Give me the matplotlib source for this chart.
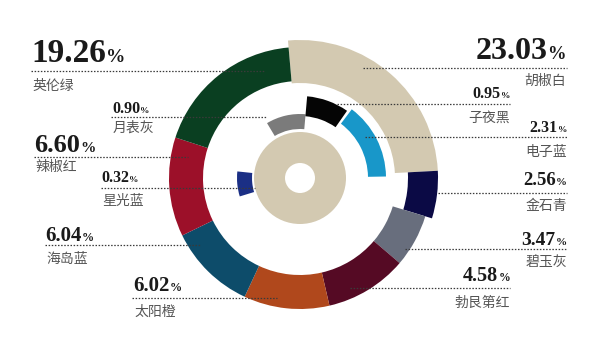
import matplotlib.pyplot as plt
from matplotlib.patches import Wedge, Circle

# Outer ring, clockwise from the top
outer_names = ['胡椒白', '金石青', '碧玉灰', '勃艮第红', '太阳橙', '海岛蓝', '辣椒红', '英伦绿']
outer_pct = [23.03, 2.56, 3.47, 4.58, 6.02, 6.04, 6.60, 19.26]
outer_span = [92, 20, 23.5, 36.5, 38, 39, 44, 67]   # degrees, as drawn in the graphic

# Small arcs inside the ring (angles counter-clockwise from east)
inner_names = ['月表灰', '子夜黑', '电子蓝', '星光蓝']
inner_pct = [0.90, 0.95, 2.31, 0.32]
inner_from = [85, 55, 1, 174]
inner_to = [121, 85, 53, 197]

# Styles
colors = {'胡椒白': '#d3c9b1', '金石青': '#0b0a45', '碧玉灰': '#686e7d', '勃艮第红': '#550a24',
          '太阳橙': '#b0481c', '海岛蓝': '#0d4c6a', '辣椒红': '#9c1029', '英伦绿': '#0a3f21',
          '月表灰': '#7b7b7b', '子夜黑': '#050505', '电子蓝': '#1897c9', '星光蓝': '#1b2f85'}
radii = {'胡椒白': (95, 138), '金石青': (108, 138),
         '月表灰': (49, 64), '子夜黑': (62, 82), '电子蓝': (68, 86), '星光蓝': (48, 63)}
ring_default = (97, 131)
cx, cy = 300, 178
start_angle = 95

# Label layout: side, x, number baseline, font size, line y, line x0, line x1, name y
label_layout = {
    '英伦绿': ('L', 31, 62, 24, 71, 31, 265, 86),
    '月表灰': ('L', 112, 113, 11.5, 116.5, 111, 267, 128),
    '辣椒红': ('L', 34, 152, 19, 157, 34, 188, 167),
    '星光蓝': ('L', 101, 182, 11.5, 188, 101, 255, 201),
    '海岛蓝': ('L', 45, 241, 15, 245, 45, 200, 259),
    '太阳橙': ('L', 133, 291, 15, 298, 132, 277, 312),
    '胡椒白': ('R', 566, 59, 23, 68, 363, 567, 81),
    '子夜黑': ('R', 510, 98, 11.5, 104, 337, 510, 118),
    '电子蓝': ('R', 567, 132, 11.5, 137, 365, 567, 152),
    '金石青': ('R', 567, 185, 13.5, 193, 438, 567, 206),
    '碧玉灰': ('R', 567, 245, 14, 249, 405, 567, 262),
    '勃艮第红': ('R', 510, 281, 14.5, 288, 350, 510, 303),
}

fig = plt.figure(figsize=(6, 3.58), dpi=100)
ax = fig.add_axes([0, 0, 1, 1])
ax.set_xlim(0, 600)
ax.set_ylim(358, 0)
ax.axis('off')

# Outer ring (y axis is inverted, so screen angle a is data angle -a)
a = start_angle
for name, span in zip(outer_names, outer_span):
    r0, r1 = radii.get(name, ring_default)
    ax.add_patch(Wedge((cx, cy), r1, -a, -(a - span), width=r1 - r0,
                       facecolor=colors[name], edgecolor='none', zorder=2))
    a -= span

# Inner arcs
for name, a0, a1 in zip(inner_names, inner_from, inner_to):
    r0, r1 = radii[name]
    ax.add_patch(Wedge((cx, cy), r1, -a1, -a0, width=r1 - r0,
                       facecolor=colors[name], edgecolor='none', zorder=2))

# Centre disk with hole
ax.add_patch(Circle((cx, cy), 46, facecolor='#d3c9b1', edgecolor='none', zorder=2))
ax.add_patch(Circle((cx, cy), 15, facecolor='white', edgecolor='none', zorder=2))

# Labels
numfont = dict(family='Liberation Serif', fontweight='bold', color='#1a1a1a')
namefont = dict(family=['Noto Sans CJK SC', 'DejaVu Sans'], color='#555555', fontsize=10)
renderer = fig.canvas.get_renderer()

for name, pct in zip(outer_names + inner_names, outer_pct + inner_pct):
    side, x, base, size, ly, lx0, lx1, ny = label_layout[name]
    num = f'{pct:.2f}'
    psize = size * 0.58
    gap = 0.3
    if side == 'L':
        t = ax.text(x, base, num, ha='left', va='baseline', fontsize=size, zorder=4, **numfont)
        w = t.get_window_extent(renderer).width
        ax.text(x + w + gap, base, '%', ha='left', va='baseline', fontsize=psize, zorder=4, **numfont)
        ax.text(x + 1, ny, name, ha='left', va='center', zorder=4, **namefont)
    else:
        p = ax.text(x, base, '%', ha='right', va='baseline', fontsize=psize, zorder=4, **numfont)
        w = p.get_window_extent(renderer).width
        ax.text(x - w - gap, base, num, ha='right', va='baseline', fontsize=size, zorder=4, **numfont)
        ax.text(x, ny, name, ha='right', va='center', zorder=4, **namefont)
    ax.plot([lx0, lx1], [ly, ly], color='#3a3a3a', lw=0.9, linestyle=(0, (1.2, 1.3)), zorder=3)

fig.savefig('out.png', dpi=100)
